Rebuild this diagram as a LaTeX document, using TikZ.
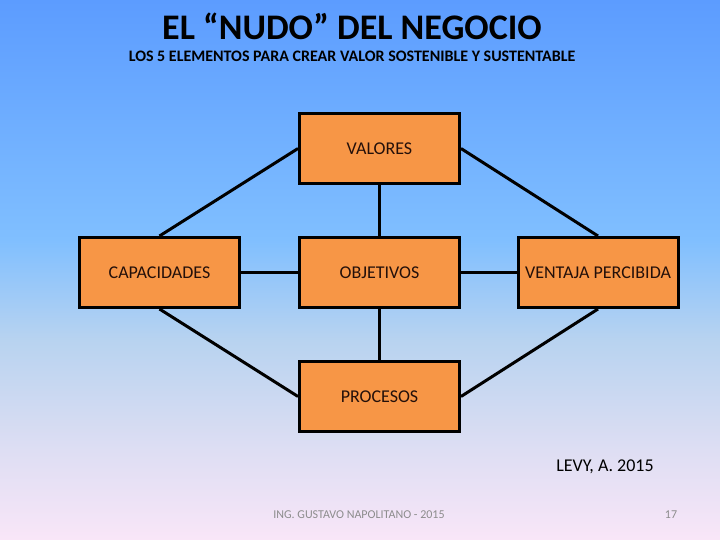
\documentclass[tikz,border=0pt]{standalone}
\usepackage{fontspec}
\setmainfont{Carlito}
\usetikzlibrary{positioning}
\definecolor{boxfill}{HTML}{F79646}
\definecolor{boxtext}{HTML}{24100A}
\definecolor{bgtop}{HTML}{5C9CFF}
\definecolor{bglight}{HTML}{80BFFF}
\definecolor{bgmid}{HTML}{B8D3F0}
\definecolor{bglilac}{HTML}{DEDEF3}
\definecolor{bgbottom}{HTML}{F9E6F8}
\definecolor{footgray}{HTML}{8C8C8C}
\pgfdeclareverticalshading{slidebg}{100bp}{color(0bp)=(bgbottom); color(25bp)=(bgbottom); color(33.3bp)=(bglilac); color(43.5bp)=(bgmid); color(52.8bp)=(bglight); color(75bp)=(bgtop); color(100bp)=(bgtop)}

\begin{document}
\begin{tikzpicture}[x=1pt, y=-1pt,
  element/.style={draw=black, line width=3pt, fill=boxfill, text=boxtext, minimum width=160pt, minimum height=70pt, inner sep=0pt, align=center, font=\fontsize{18}{20}\selectfont},
  link/.style={line width=3pt, black},
  titletext/.style={font=\fontsize{36}{40}\selectfont\bfseries, inner sep=0pt},
  subtext/.style={font=\fontsize{16}{18}\selectfont\bfseries, inner sep=0pt}
]
  \shade[shading=slidebg] (0,0) rectangle (720,540);
  \useasboundingbox (0,0) rectangle (720,540);

  \node[titletext] (title) at (352,26) {EL “NUDO” DEL NEGOCIO};
  \node[subtext] (subtitle) at (352,56) {LOS 5 ELEMENTOS PARA CREAR VALOR SOSTENIBLE Y SUSTENTABLE};

  \node[element] (objetivos) at (379.5,272.5) {OBJETIVOS};
  \node[element, above=51pt of objetivos] (valores) {VALORES};
  \node[element, below=51pt of objetivos] (procesos) {PROCESOS};
  \node[element, left=57pt of objetivos] (capacidades) {CAPACIDADES};
  \node[element, right=55.5pt of objetivos] (ventaja) {VENTAJA PERCIBIDA};

  \draw[link] (valores.west) -- (capacidades.north);
  \draw[link] (valores.east) -- (ventaja.north);
  \draw[link] (valores) -- (objetivos);
  \draw[link] (capacidades) -- (objetivos);
  \draw[link] (objetivos) -- (ventaja);
  \draw[link] (capacidades.south) -- (procesos.west);
  \draw[link] (objetivos) -- (procesos);
  \draw[link] (procesos.east) -- (ventaja.south);

  \node[font=\fontsize{18}{20}\selectfont, inner sep=0pt] (fuente) at (605,467) {LEVY, A. 2015};
  \node[font=\fontsize{12}{14}\selectfont, text=footgray, inner sep=0pt] (autor) at (359,515) {ING. GUSTAVO NAPOLITANO - 2015};
  \node[font=\fontsize{12}{14}\selectfont, text=footgray, inner sep=0pt] (pagina) at (671,515) {17};
\end{tikzpicture}
\end{document}
